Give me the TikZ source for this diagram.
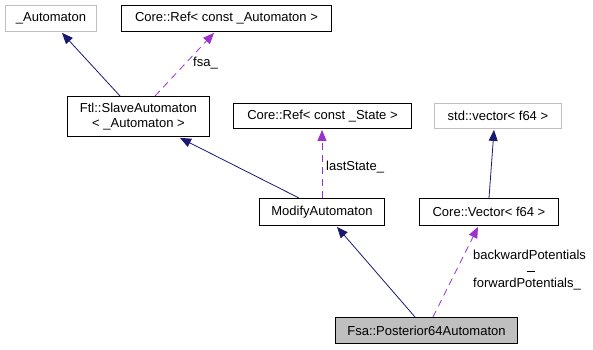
\documentclass[tikz,border=0pt]{standalone}
\usepackage{fontspec}
\setmainfont{Liberation Sans}
\usetikzlibrary{arrows.meta}
\definecolor{inherit}{HTML}{191970}
\definecolor{usage}{HTML}{9A32CD}
\definecolor{extbox}{HTML}{BFBFBF}
\definecolor{hilite}{HTML}{BFBFBF}
\begin{document}
\begin{tikzpicture}[x=1pt,y=-1pt,
  font=\fontsize{13}{14.5}\selectfont,
  cls/.style={draw=black,line width=0.9pt,inner sep=0pt,anchor=north west,align=center},
  extcls/.style={cls,draw=extbox},
  focus/.style={cls,fill=hilite},
  inh/.style={draw=inherit,line width=0.8pt,-{Triangle[width=9pt,length=11pt]}},
  use/.style={draw=usage,line width=0.8pt,dash pattern=on 7pt off 5pt,-{Triangle[width=9pt,length=11pt]}},
  lbl/.style={inner sep=0pt,anchor=west}]
\useasboundingbox (0,0) rectangle (593,349);
% class boxes
\node[extcls,minimum width=91pt,minimum height=26pt] (autom) at (5,5) {\_Automaton};
\node[cls,minimum width=210pt,minimum height=26pt] (refA) at (121,5) {Core::Ref< const \_Automaton >};
\node[cls,minimum width=142pt,minimum height=40pt] (slave) at (67,96) {Ftl::SlaveAutomaton\\< \_Automaton >};
\node[cls,minimum width=178pt,minimum height=25pt] (refS) at (233,103) {Core::Ref< const \_State >};
\node[extcls,minimum width=127pt,minimum height=25pt] (stdvec) at (434,103) {std::vector< f64 >};
\node[cls,minimum width=125pt,minimum height=27pt] (modify) at (259,198) {ModifyAutomaton};
\node[cls,minimum width=139pt,minimum height=27pt] (vec) at (419,198) {Core::Vector< f64 >};
\node[focus,minimum width=182pt,minimum height=26pt] (post) at (335,317) {Fsa::Posterior64Automaton};
% attachment points on the boxes
\path (slave.north west) ++(53,0) coordinate (s1);
\path (autom.south west) ++(57,1) coordinate (a1);
\path (modify.north west) ++(40,0) coordinate (m1);
\path (slave.south west) ++(113,1) coordinate (s2);
\path (vec.north west) ++(70,0) coordinate (v1);
\path (stdvec.south west) ++(60,1) coordinate (d1);
\path (post.north west) ++(80,0) coordinate (p1);
\path (modify.south west) ++(78,1) coordinate (m2);
\path (slave.north west) ++(88,0) coordinate (s3);
\path (refA.south west) ++(93,1) coordinate (r1);
\path (modify.north west) ++(63,0) coordinate (m3);
\path (refS.south west) ++(89,1) coordinate (r2);
\path (post.north west) ++(98,0) coordinate (p2);
\path (vec.south west) ++(59,1) coordinate (v2);
% inheritance
\draw[inh] (s1) -- (a1);
\draw[inh] (m1) -- (s2);
\draw[inh] (v1) -- (d1);
\draw[inh] (p1) -- (m2);
% usage
\draw[use] (s3) -- (r1);
\node[lbl] (lfsa) at (193,63) {fsa\_};
\draw[use] (m3) -- (r2);
\node[lbl] (llast) at (326,167) {lastState\_};
\draw[use] (p2) -- (v2);
\node[lbl] (lback) at (473,255) {backwardPotentials};
\draw[line width=0.8pt] (526.5,271) -- (535,271);
\node[lbl] (lfwd) at (473,284) {forwardPotentials\_};
\end{tikzpicture}
\end{document}
